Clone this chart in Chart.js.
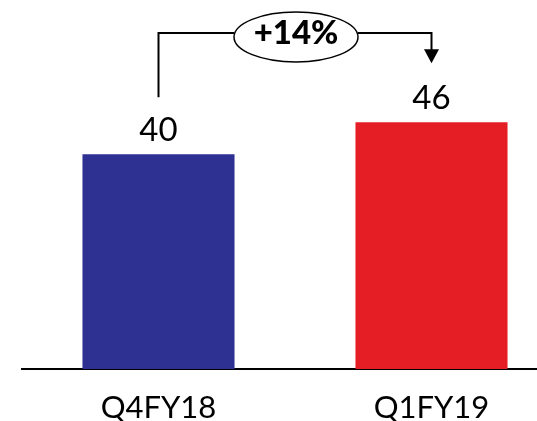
<!DOCTYPE html>
<html>
<head>
<meta charset="utf-8">
<script src="https://cdn.jsdelivr.net/npm/chart.js@4/dist/chart.umd.min.js"></script>
<style>
  html, body { margin: 0; padding: 0; background: #ffffff; overflow: hidden; }
  #wrap { width: 537px; height: 421px; overflow: hidden; }
  canvas { display: block; }
</style>
</head>
<body>
<div id="wrap"><canvas id="chart" width="568" height="421"></canvas></div>
<script>
// Quarterly values
const categories = ['Q4FY18', 'Q1FY19'];
const values = [40, 46];
const barColors = ['#2E3192', '#E51D25'];
const growthLabel = '+14%';

const FONT = 'Lato, "Open Sans", sans-serif';

// Value labels above each bar
const valueLabels = {
  id: 'valueLabels',
  afterDatasetsDraw(chart) {
    const ctx = chart.ctx;
    const meta = chart.getDatasetMeta(0);
    ctx.save();
    ctx.font = '33px ' + FONT;
    ctx.fillStyle = '#000';
    ctx.textAlign = 'center';
    ctx.textBaseline = 'alphabetic';
    meta.data.forEach((bar, i) => {
      ctx.fillText(String(values[i]), bar.x, bar.y - 13);
    });
    ctx.restore();
  }
};

// Growth bracket: up from the first label, across, and down with an arrow to the second
const growthBracket = {
  id: 'growthBracket',
  afterDatasetsDraw(chart) {
    const ctx = chart.ctx;
    const meta = chart.getDatasetMeta(0);
    const a = meta.data[0], b = meta.data[1];
    const yTop = 33;
    const yStart = a.y - 57;      // just above the first value label
    const yTip = b.y - 59;        // arrow tip above the second value label
    const cx = (a.x + b.x) / 2 + 1;
    const rx = 62, ry = 25;
    ctx.save();
    ctx.strokeStyle = '#000';
    ctx.fillStyle = '#000';
    ctx.lineWidth = 2;
    ctx.beginPath();
    ctx.moveTo(a.x, yStart);
    ctx.lineTo(a.x, yTop);
    ctx.lineTo(cx - rx, yTop);
    ctx.moveTo(cx + rx, yTop);
    ctx.lineTo(b.x, yTop);
    ctx.lineTo(b.x, yTip - 12);
    ctx.stroke();
    // arrow head
    ctx.beginPath();
    ctx.moveTo(b.x - 7.5, yTip - 14);
    ctx.lineTo(b.x + 7.5, yTip - 14);
    ctx.lineTo(b.x, yTip);
    ctx.closePath();
    ctx.fill();
    // ellipse with growth text
    ctx.beginPath();
    ctx.ellipse(cx, yTop + 4, rx, ry, 0, 0, Math.PI * 2);
    ctx.fillStyle = '#fff';
    ctx.fill();
    ctx.lineWidth = 1.5;
    ctx.stroke();
    ctx.fillStyle = '#000';
    ctx.font = '900 33px ' + FONT;
    ctx.textAlign = 'center';
    ctx.textBaseline = 'alphabetic';
    ctx.fillText(growthLabel, cx, yTop + 11);
    ctx.restore();
  }
};

new Chart(document.getElementById('chart'), {
  type: 'bar',
  data: {
    labels: categories,
    datasets: [{
      data: values,
      backgroundColor: barColors,
      borderWidth: 0,
      barPercentage: 0.557,
      categoryPercentage: 1.0
    }]
  },
  options: {
    responsive: false,
    animation: false,
    layout: { padding: { top: 47, left: 22, right: 0, bottom: 0 } },
    plugins: { legend: { display: false }, tooltip: { enabled: false } },
    scales: {
      x: {
        grid: { display: false, drawTicks: false },
        border: { display: true, color: '#000', width: 2 },
        ticks: { color: '#000', font: { family: FONT, size: 31 }, padding: 20 },
        afterFit(scale) { scale.height = 52; }
      },
      y: {
        display: false,
        min: 0,
        max: 60
      }
    }
  },
  plugins: [valueLabels, growthBracket]
});
</script>
</body>
</html>
